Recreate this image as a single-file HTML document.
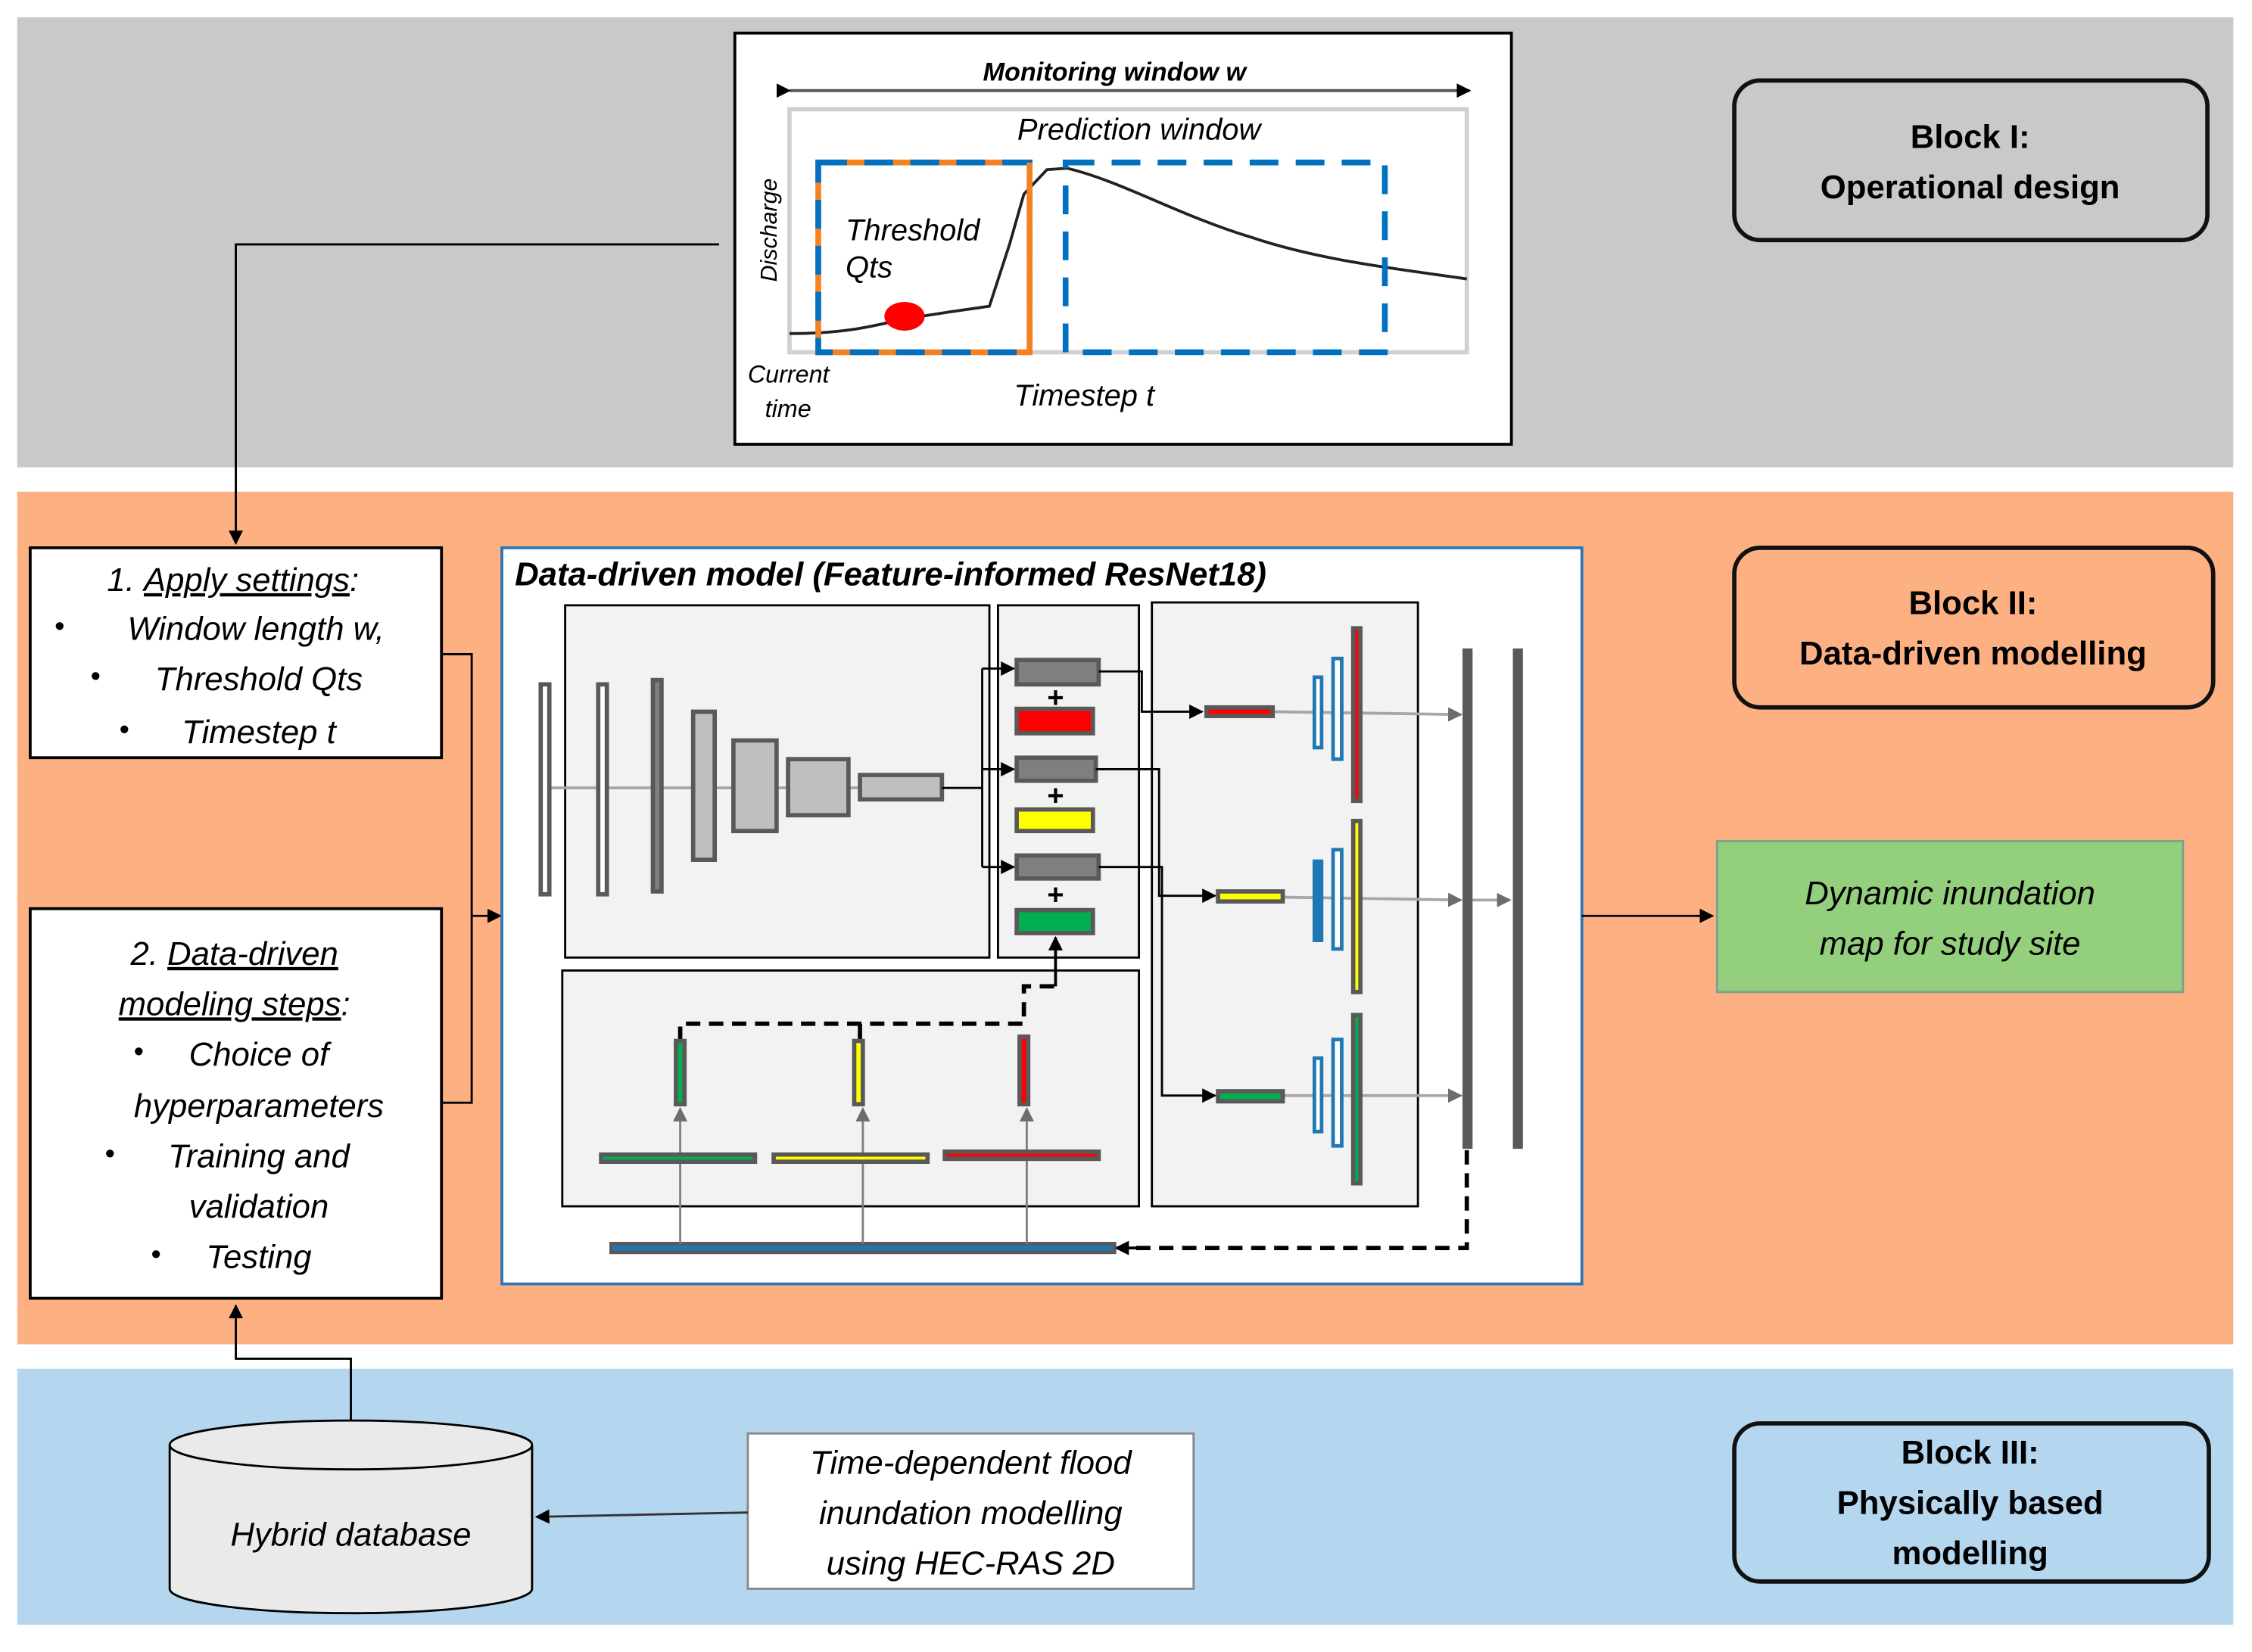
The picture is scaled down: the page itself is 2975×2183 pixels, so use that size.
<!DOCTYPE html>
<html><head><meta charset="utf-8"><style>
html,body{margin:0;padding:0;background:#fff;}
svg{display:block;}
text{font-family:"Liberation Sans",sans-serif;}
.it{font-style:italic;}
.nar{font-family:"Liberation Sans Narrow","Liberation Sans",sans-serif;font-style:italic;}
</style></head><body>
<svg width="2975" height="2183" viewBox="0 0 1566 1149" preserveAspectRatio="none" xmlns="http://www.w3.org/2000/svg">
<defs>
<marker id="ab" markerWidth="10" markerHeight="10" refX="9" refY="5" orient="auto" markerUnits="userSpaceOnUse"><path d="M0,0 L10,5 L0,10 z" fill="#000"/></marker>
<marker id="ag" markerWidth="10" markerHeight="10" refX="9" refY="5" orient="auto" markerUnits="userSpaceOnUse"><path d="M0,0 L10,5 L0,10 z" fill="#6d6d6d"/></marker>
</defs>
<rect width="1566" height="1149" fill="#fff"/>
<rect x="12" y="12" width="1541" height="313" fill="#c9c9c9"/>
<rect x="12" y="342" width="1541" height="593" fill="#fdb182"/>
<rect x="12" y="952" width="1541" height="178" fill="#b4d6ef"/>

<rect x="511" y="23" width="540" height="286" fill="#fff" stroke="#000" stroke-width="2"/>
<text x="775" y="56" text-anchor="middle" class="nar" font-weight="bold" font-size="18">Monitoring window w</text>
<line x1="549" y1="63" x2="1022" y2="63" stroke="#555" stroke-width="2" marker-start="url(#ab)" marker-end="url(#ab)"/>
<rect x="549" y="76" width="471" height="169" fill="none" stroke="#d0d0d0" stroke-width="3"/>
<text x="792" y="97" text-anchor="middle" class="nar" font-size="21">Prediction window</text>
<path d="M549,232 C590,232 610,226 628,222 L660,217 L688,213 L702,170 L712,135 L728,118 L742,117 C780,126 820,150 870,165 C920,182 980,188 1020,194" fill="none" stroke="#222" stroke-width="2"/>
<rect x="569" y="113" width="147" height="132" fill="none" stroke="#f58220" stroke-width="4"/>
<rect x="569" y="113" width="147" height="132" fill="none" stroke="#0070c0" stroke-width="4" stroke-dasharray="20,12"/>
<line x1="716" y1="113" x2="716" y2="245" stroke="#f58220" stroke-width="4"/>
<rect x="741" y="113" width="222" height="132" fill="none" stroke="#0070c0" stroke-width="4" stroke-dasharray="20,12"/>
<ellipse cx="629" cy="220" rx="14" ry="10" fill="#f00"/>
<text x="0" y="0" transform="translate(540,196) rotate(-90)" class="nar" font-size="16">Discharge</text>
<text x="588" y="167" class="nar" font-size="21">Threshold</text>
<text x="588" y="193" class="nar" font-size="21">Qts</text>
<text x="520" y="266" class="nar" font-size="17">Current</text>
<text x="532" y="290" class="nar" font-size="17">time</text>
<text x="705" y="282" class="nar" font-size="21">Timestep t</text>

<polyline points="500,170 164,170 164,378" fill="none" stroke="#000" stroke-width="1.5" marker-end="url(#ab)"/>

<rect x="1206" y="56" width="329" height="111" rx="18" fill="none" stroke="#111" stroke-width="3"/>
<text x="1370" y="103" text-anchor="middle" font-weight="bold" font-size="23">Block I:</text>
<text x="1370" y="138" text-anchor="middle" font-weight="bold" font-size="23">Operational design</text>
<rect x="1206" y="381" width="333" height="111" rx="18" fill="none" stroke="#111" stroke-width="3"/>
<text x="1372" y="427" text-anchor="middle" font-weight="bold" font-size="23">Block II:</text>
<text x="1372" y="462" text-anchor="middle" font-weight="bold" font-size="23">Data-driven modelling</text>
<rect x="1206" y="990" width="330" height="110" rx="18" fill="none" stroke="#111" stroke-width="3"/>
<text x="1370" y="1018" text-anchor="middle" font-weight="bold" font-size="23">Block III:</text>
<text x="1370" y="1053" text-anchor="middle" font-weight="bold" font-size="23">Physically based</text>
<text x="1370" y="1088" text-anchor="middle" font-weight="bold" font-size="23">modelling</text>

<rect x="21" y="381" width="286" height="146" fill="#fff" stroke="#000" stroke-width="2"/>
<g font-size="23" text-anchor="middle">
<text x="162" y="411" class="it">1. <tspan text-decoration="underline">Apply settings</tspan>:</text>
<text x="178" y="445" class="it">Window length w,</text>
<text x="180" y="480" class="it">Threshold Qts</text>
<text x="180" y="517" class="it">Timestep t</text>
</g>
<g font-size="20"><text x="38" y="442">•</text><text x="63" y="477">•</text><text x="83" y="514">•</text></g>
<rect x="21" y="632" width="286" height="271" fill="#fff" stroke="#000" stroke-width="2"/>
<g font-size="23" text-anchor="middle">
<text x="163" y="671" class="it">2. <tspan text-decoration="underline">Data-driven</tspan></text>
<text x="163" y="706" class="it"><tspan text-decoration="underline">modeling steps</tspan>:</text>
<text x="180" y="741" class="it">Choice of</text>
<text x="180" y="777" class="it">hyperparameters</text>
<text x="180" y="812" class="it">Training and</text>
<text x="180" y="847" class="it">validation</text>
<text x="180" y="882" class="it">Testing</text>
</g>
<g font-size="20"><text x="93" y="738">•</text><text x="73" y="809">•</text><text x="105" y="879">•</text></g>
<polyline points="307,455 328,455 328,767 307,767" fill="none" stroke="#000" stroke-width="1.5"/>
<line x1="328" y1="637" x2="348" y2="637" stroke="#000" stroke-width="1.5" marker-end="url(#ab)"/>

<rect x="349" y="381" width="751" height="512" fill="#fff" stroke="#2e75b6" stroke-width="2"/>
<text x="358" y="407" class="it" font-weight="bold" font-size="23">Data-driven model (Feature-informed ResNet18)</text>
<g fill="#f2f2f2" stroke="#000" stroke-width="1.5">
<rect x="393" y="421" width="295" height="245"/>
<rect x="694" y="421" width="98" height="245"/>
<rect x="801" y="419" width="185" height="420"/>
<rect x="391" y="675" width="401" height="164"/>
</g>
<line x1="378" y1="548" x2="600" y2="548" stroke="#a6a6a6" stroke-width="2"/>
<g stroke="#595959" stroke-width="3">
<rect x="376" y="476" width="6" height="146" fill="#fff"/>
<rect x="416" y="476" width="6" height="146" fill="#fff"/>
<rect x="454" y="473" width="6" height="147" fill="#7f7f7f"/>
<rect x="482" y="495" width="15" height="103" fill="#bfbfbf"/>
<rect x="510" y="515" width="30" height="63" fill="#bfbfbf"/>
<rect x="548" y="528" width="42" height="39" fill="#bfbfbf"/>
<rect x="598" y="539" width="57" height="17" fill="#bfbfbf"/>
</g>
<polyline points="655,548 683,548" fill="none" stroke="#000" stroke-width="1.5"/>
<line x1="683" y1="465" x2="683" y2="603" stroke="#000" stroke-width="1.5"/>
<line x1="683" y1="465" x2="705" y2="465" stroke="#000" stroke-width="1.5" marker-end="url(#ab)"/>
<line x1="683" y1="535" x2="705" y2="535" stroke="#000" stroke-width="1.5" marker-end="url(#ab)"/>
<line x1="683" y1="603" x2="705" y2="603" stroke="#000" stroke-width="1.5" marker-end="url(#ab)"/>
<g stroke="#595959" stroke-width="3">
<rect x="707" y="459" width="57" height="17" fill="#7f7f7f"/>
<rect x="707" y="527" width="55" height="16" fill="#7f7f7f"/>
<rect x="707" y="595" width="57" height="16" fill="#7f7f7f"/>
<rect x="707" y="493" width="53" height="17" fill="#ff0000"/>
<rect x="707" y="563" width="53" height="15" fill="#ffff00"/>
<rect x="707" y="633" width="53" height="16" fill="#00b050"/>
</g>
<g font-weight="bold" font-size="20" text-anchor="middle"><text x="734" y="492">+</text><text x="734" y="560">+</text><text x="734" y="629">+</text></g>
<polyline points="473,740 473,712 712,712 712,686 734,686" fill="none" stroke="#000" stroke-width="3" stroke-dasharray="10,6"/>
<line x1="734" y1="686" x2="734" y2="652" stroke="#000" stroke-width="2" marker-end="url(#ab)"/>
<line x1="598" y1="712" x2="598" y2="724" stroke="#000" stroke-width="3"/>
<polyline points="764,467 794,467 794,495 836,495" fill="none" stroke="#000" stroke-width="1.5" marker-end="url(#ab)"/>
<polyline points="762,535 806,535 806,623 845,623" fill="none" stroke="#000" stroke-width="1.5" marker-end="url(#ab)"/>
<polyline points="764,603 808,603 808,762 845,762" fill="none" stroke="#000" stroke-width="1.5" marker-end="url(#ab)"/>
<g stroke="#a6a6a6" stroke-width="2">
<line x1="885" y1="495" x2="1016" y2="497" marker-end="url(#ag)"/>
<line x1="892" y1="624" x2="1016" y2="626" marker-end="url(#ag)"/>
<line x1="892" y1="762" x2="1016" y2="762" marker-end="url(#ag)"/>
<line x1="1024" y1="626" x2="1050" y2="626" marker-end="url(#ag)"/>
</g>
<g stroke="#595959" stroke-width="3">
<rect x="839" y="492" width="46" height="6" fill="#ff0000"/>
<rect x="847" y="620" width="45" height="7" fill="#ffff00"/>
<rect x="847" y="759" width="45" height="7" fill="#00b050"/>
</g>
<g stroke="#1f77b4" stroke-width="2.5" fill="#fff">
<rect x="914" y="471" width="5" height="49"/><rect x="927" y="458" width="6" height="70"/>
<rect x="914" y="599" width="5" height="55" fill="#1f77b4"/><rect x="927" y="591" width="6" height="69"/>
<rect x="914" y="736" width="5" height="51"/><rect x="927" y="723" width="6" height="74"/>
</g>
<g stroke="#595959" stroke-width="3">
<rect x="941" y="437" width="5" height="120" fill="#ff0000"/>
<rect x="941" y="571" width="5" height="119" fill="#ffff00"/>
<rect x="941" y="706" width="5" height="117" fill="#00b050"/>
</g>
<rect x="1017" y="451" width="7" height="348" fill="#595959"/>
<rect x="1052" y="451" width="7" height="348" fill="#595959"/>
<polyline points="1020,800 1020,868 785,868" fill="none" stroke="#000" stroke-width="3" stroke-dasharray="10,6"/>
<line x1="790" y1="868" x2="776" y2="868" stroke="#000" stroke-width="2" marker-end="url(#ab)"/>
<rect x="425" y="865" width="350" height="6" fill="#1f77b4" stroke="#595959" stroke-width="2.5"/>
<g stroke="#808080" stroke-width="1.5">
<line x1="473" y1="865" x2="473" y2="771" marker-end="url(#ag)"/>
<line x1="600" y1="865" x2="600" y2="771" marker-end="url(#ag)"/>
<line x1="714" y1="865" x2="714" y2="771" marker-end="url(#ag)"/>
</g>
<g stroke="#595959" stroke-width="3">
<rect x="470" y="724" width="6" height="44" fill="#00b050"/>
<rect x="594" y="724" width="6" height="44" fill="#ffff00"/>
<rect x="709" y="721" width="6" height="47" fill="#ff0000"/>
<rect x="418" y="803" width="107" height="5" fill="#00b050"/>
<rect x="538" y="803" width="107" height="5" fill="#ffff00"/>
<rect x="657" y="801" width="107" height="5" fill="#ff0000"/>
</g>

<line x1="1100" y1="637" x2="1191" y2="637" stroke="#000" stroke-width="1.5" marker-end="url(#ab)"/>
<rect x="1194" y="585" width="324" height="105" fill="#93cf7c" stroke="#7f9f8f" stroke-width="1.5"/>
<text x="1356" y="629" text-anchor="middle" class="it" font-size="23">Dynamic inundation</text>
<text x="1356" y="664" text-anchor="middle" class="it" font-size="23">map for study site</text>

<polyline points="244,990 244,945 164,945 164,908" fill="none" stroke="#000" stroke-width="1.5" marker-end="url(#ab)"/>
<path d="M118,1005 L118,1105 A126,17 0 0 0 370,1105 L370,1005" fill="#eaeaea" stroke="#000" stroke-width="1.5"/>
<ellipse cx="244" cy="1005" rx="126" ry="17" fill="#eaeaea" stroke="#000" stroke-width="1.5"/>
<text x="244" y="1075" text-anchor="middle" class="it" font-size="23">Hybrid database</text>
<rect x="520" y="997" width="310" height="108" fill="#fff" stroke="#888" stroke-width="1.5"/>
<g text-anchor="middle" font-size="23"><text x="675" y="1025" class="it">Time-dependent flood</text><text x="675" y="1060" class="it">inundation modelling</text><text x="675" y="1095" class="it">using HEC-RAS 2D</text></g>
<line x1="520" y1="1052" x2="373" y2="1055" stroke="#333" stroke-width="1.5" marker-end="url(#ab)"/>
</svg>
</body></html>
